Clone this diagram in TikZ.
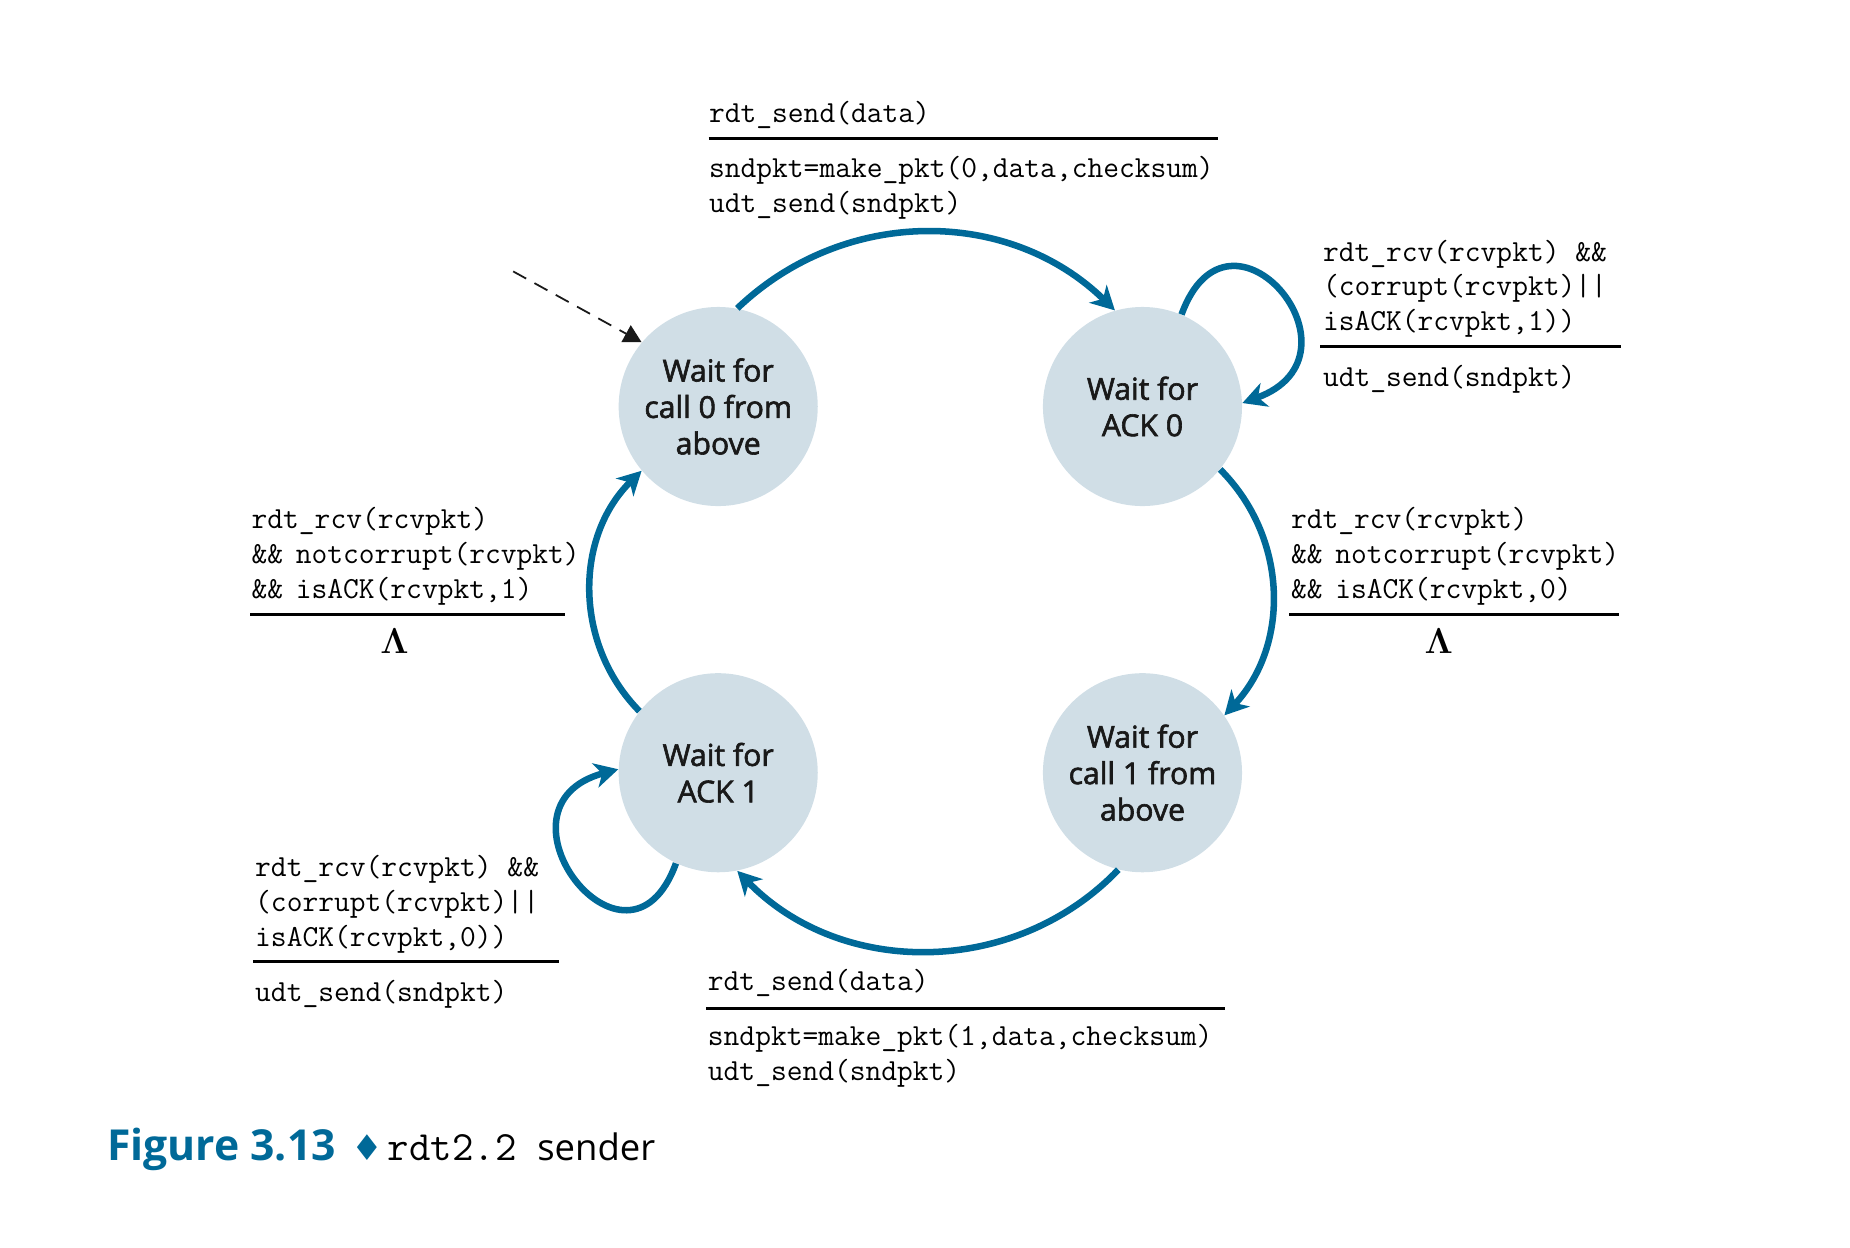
\documentclass[tikz,border=0pt]{standalone}
\usepackage{fontspec}
\setsansfont{Open Sans}
\newfontfamily\statefont[FakeBold=2]{Open Sans}
\newfontfamily\suitfont{DejaVu Sans}
\usepackage{xcolor}
\usepackage{tikz}
\usetikzlibrary{arrows.meta}

\definecolor{fsmblue}{RGB}{0,105,152}
\definecolor{fsmfill}{RGB}{208,222,230}
\newcommand{\ampamp}{\&\&\hspace{-0.1em} }

\begin{document}
\begin{tikzpicture}[
  x=0.2mm, y=0.2mm,
  state/.style={circle, fill=fsmfill, minimum size=33.6mm, inner sep=0pt, align=center,
    font=\statefont\fontsize{14.5}{17.5}\selectfont, text=black!90},
  trans/.style={draw=fsmblue, line width=1.1mm,
    -{Stealth[length=4mm, width=4.2mm, inset=1.2mm]}},
  initarrow/.style={draw=black!90, line width=0.3mm, dash pattern=on 2.5mm off 1.6mm,
    -{Triangle[length=3mm, width=3.2mm]}},
  code/.style={anchor=base west, align=left, inner sep=0pt,
    font=\ttfamily\fontsize{14.7}{16.7}\selectfont},
  guardline/.style={line width=0.45mm},
  lambda/.style={anchor=base, inner sep=0pt, font=\boldmath\fontsize{17}{20}\selectfont}
]
  \useasboundingbox (0,0) rectangle (1561,-1053);

  % the four states
  \node[state] (call0) at (606,-343) {Wait for\\call 0 from\\above};
  \node[state] (ack0) at (964,-343) {Wait for\\ACK 0};
  \node[state] (ack1) at (606,-652) {Wait for\\ACK 1};
  \node[state] (call1) at (964,-652) {Wait for\\call 1 from\\above};

  % transitions
  \coordinate (init) at (433,-229);
  \draw[initarrow] (init) -- (call0.140);
  \draw[trans] (call0.79) to[bend left=44] (ack0.106);
  \draw[trans] (ack0.-39) to[bend left=44] (call1.35);
  \draw[trans] (call1.-104) to[bend left=46] (ack1.-79);
  \draw[trans] (ack1.142) to[bend left=45] (call0.-140);
  \draw[trans] (ack0.67) .. controls +(70:118) and +(20:118) .. (ack0.2);
  \draw[trans] (ack1.-115) .. controls +(-110:120) and +(195:120) .. (ack1.178);

  % call 0 -> ack 0 (base is the last line)
  \node[code] (sendguard0) at (598,-103.5) {rdt\_send(data)};
  \draw[guardline] (598,-117) -- ++(430,0);
  \node[code] (sendact0) at (598,-179.5) {sndpkt=make\_pkt(0,data,checksum)\\udt\_send(sndpkt)};

  % ack 0 loop
  \node[code] (nakguard0) at (1116,-279) {rdt\_rcv(rcvpkt) \&\&\\(corrupt(rcvpkt)||\\isACK(rcvpkt,1))};
  \draw[guardline] (1114,-292.5) -- ++(254,0);
  \node[code] (nakact0) at (1116,-325.7) {udt\_send(sndpkt)};

  % ack 0 -> call 1
  \node[code] (ackguard0) at (1089,-504.8) {rdt\_rcv(rcvpkt)\\\ampamp notcorrupt(rcvpkt)\\\ampamp isACK(rcvpkt,0)};
  \draw[guardline] (1088,-518.4) -- ++(278,0);
  \node[lambda] (ackact0) at (1214,-551) {$\Lambda$};

  % ack 1 -> call 0
  \node[code] (ackguard1) at (212,-504.8) {rdt\_rcv(rcvpkt)\\\ampamp notcorrupt(rcvpkt)\\\ampamp isACK(rcvpkt,1)};
  \draw[guardline] (211,-518.4) -- ++(266,0);
  \node[lambda] (ackact1) at (333,-551) {$\Lambda$};

  % ack 1 loop
  \node[code] (nakguard1) at (215,-798.3) {rdt\_rcv(rcvpkt) \&\&\\(corrupt(rcvpkt)||\\isACK(rcvpkt,0))};
  \draw[guardline] (213.5,-811.5) -- ++(258.5,0);
  \node[code] (nakact1) at (215,-845.3) {udt\_send(sndpkt)};

  % call 1 -> ack 1
  \node[code] (sendguard1) at (597,-836) {rdt\_send(data)};
  \draw[guardline] (596,-851) -- ++(438,0);
  \node[code] (sendact1) at (597,-911.4) {sndpkt=make\_pkt(1,data,checksum)\\udt\_send(sndpkt)};

  % caption
  \node[anchor=base west, inner sep=0pt, text=fsmblue,
    font=\sffamily\bfseries\fontsize{20.5}{24}\selectfont] (fignum) at (90,-979) {Figure 3.13};
  \node[anchor=base west, inner sep=0pt, text=fsmblue,
    font=\suitfont\fontsize{17}{20}\selectfont] (figsep) at (296,-979) {♦};
  \node[anchor=base west, inner sep=0pt,
    font=\ttfamily\fontsize{20}{24}\selectfont] (figcode) at (327,-979) {rdt2.2};
  \node[anchor=base west, inner sep=0pt,
    font=\sffamily\fontsize{17.5}{21}\selectfont] (figtext) at (453,-979) {sender};
\end{tikzpicture}
\end{document}
